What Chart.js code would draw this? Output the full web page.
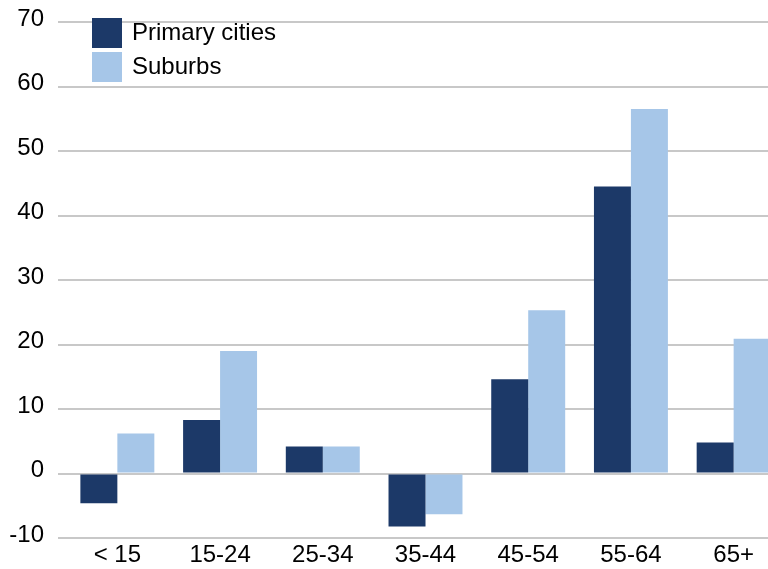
<!DOCTYPE html>
<html>
<head>
<meta charset="utf-8">
<script src="https://cdn.jsdelivr.net/npm/chart.js@4/dist/chart.umd.min.js"></script>
<style>
  html, body { margin: 0; padding: 0; background: #fff; overflow: hidden; }
  #wrap { position: relative; width: 785px; height: 569px; }
</style>
</head>
<body>
<div id="wrap"><canvas id="chart"></canvas></div>
<script>
// ── Data ──────────────────────────────────────────────────────────────────────
const ageGroups = ['< 15', '15-24', '25-34', '35-44', '45-54', '55-64', '65+'];
const primaryCities = [-4.6, 8.3, 4.2, -8.2, 14.6, 44.5, 4.8];
const suburbs       = [6.2, 19.0, 4.2, -6.3, 25.3, 56.5, 20.9];
const yTicks = { min: -10, max: 70, step: 10 };

const FONT = 'Liberation Sans, Arial, sans-serif';

// legend drawn inside the plot, top-left, stacked squares
const insideLegend = {
  id: 'insideLegend',
  afterDraw(chart) {
    const ctx = chart.ctx;
    ctx.save();
    ctx.font = `24px ${FONT}`;
    ctx.textBaseline = 'middle';
    ctx.textAlign = 'left';
    chart.data.datasets.forEach((ds, i) => {
      const y = 18 + i * 34;
      ctx.fillStyle = ds.backgroundColor;
      ctx.fillRect(92, y, 30, 30);
      ctx.fillStyle = '#000';
      ctx.fillText(ds.label, 132, y + 15);
    });
    ctx.restore();
  }
};

new Chart(document.getElementById('chart'), {
  type: 'bar',
  data: {
    labels: ageGroups,
    datasets: [
      { label: 'Primary cities', data: primaryCities, backgroundColor: '#1C3968' },
      { label: 'Suburbs',        data: suburbs,       backgroundColor: '#A6C6E8' }
    ]
  },
  options: {
    responsive: true, maintainAspectRatio: false, animation: false,
    devicePixelRatio: 1,
    layout: { padding: { top: 22, right: 0, bottom: 0, left: 0 } },
    datasets: { bar: { barPercentage: 1, categoryPercentage: 0.72 } },
    plugins: { legend: { display: false }, tooltip: { enabled: false } },
    scales: {
      x: {
        grid: { display: false, drawTicks: false },
        border: { display: false },
        ticks: { color: '#000', padding: 3, font: { family: FONT, size: 24 } },
        afterFit: s => { s.height = 31; }
      },
      y: {
        min: yTicks.min, max: yTicks.max,
        grid: { color: '#C8C8C8', lineWidth: 2, tickLength: 8 },
        border: { display: false },
        ticks: { stepSize: yTicks.step, color: '#000', padding: 14, labelOffset: -3, font: { family: FONT, size: 24 } },
        afterFit: s => { s.width = 66; s.paddingTop = 0; s.paddingBottom = 0; }
      }
    }
  },
  plugins: [insideLegend]
});
</script>
</body>
</html>
